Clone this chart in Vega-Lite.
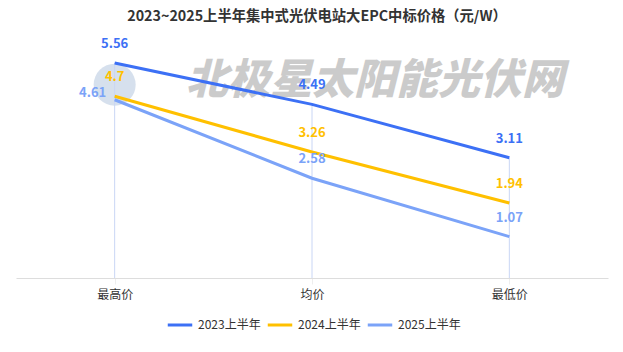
{
  "$schema": "https://vega.github.io/schema/vega-lite/v6.json",
  "width": 592,
  "height": 232,
  "autosize": {"type": "none"},
  "padding": {"left": 16, "top": 46, "right": 15, "bottom": 74},
  "background": "#ffffff",
  "title": {
    "text": "2023~2025上半年集中式光伏电站大EPC中标价格（元/W）",
    "fontSize": 14.3,
    "font": "Noto Sans CJK SC",
    "fontWeight": "bold",
    "color": "#333333",
    "anchor": "middle",
    "dx": 5,
    "offset": 14
  },
  "config": {
    "view": {"stroke": null},
    "font": "Noto Sans CJK SC"
  },
  "data": {
    "values": [
      {"series": "2023上半年", "cat": "最高价", "value": 5.56},
      {"series": "2023上半年", "cat": "均价", "value": 4.49},
      {"series": "2023上半年", "cat": "最低价", "value": 3.11},
      {"series": "2024上半年", "cat": "最高价", "value": 4.7},
      {"series": "2024上半年", "cat": "均价", "value": 3.26},
      {"series": "2024上半年", "cat": "最低价", "value": 1.94},
      {"series": "2025上半年", "cat": "最高价", "value": 4.61},
      {"series": "2025上半年", "cat": "均价", "value": 2.58},
      {"series": "2025上半年", "cat": "最低价", "value": 1.07}
    ]
  },
  "encoding": {
    "x": {
      "field": "cat",
      "type": "nominal",
      "sort": ["最高价", "均价", "最低价"],
      "scale": {"type": "point", "padding": 0.5},
      "axis": {
        "title": null,
        "labelAngle": 0,
        "labelFontSize": 12,
        "labelColor": "#333333",
        "labelPadding": 5,
        "domainColor": "#dddddd",
        "tickColor": "#eeeeee",
        "tickSize": 6,
        "grid": false
      }
    },
    "y": {
      "field": "value",
      "type": "quantitative",
      "scale": {"domain": [0, 6], "nice": false},
      "axis": null
    }
  },
  "layer": [
    {
      "mark": {"type": "point", "filled": true, "color": "#cfdbea", "opacity": 0.85, "size": 1764, "shape": "circle"},
      "encoding": {
        "x": {"datum": "最高价", "type": "nominal"},
        "y": {"datum": 5.0, "type": "quantitative"}
      },
      "transform": [{"filter": "datum.series === '2023上半年' && datum.cat === '最高价'"}]
    },
    {
      "mark": {"type": "text", "text": "北极星太阳能光伏网", "fontSize": 42, "fontWeight": 900, "fontStyle": "italic", "color": "#cbcbcb", "dx": 63, "baseline": "middle", "align": "center"},
      "encoding": {
        "x": {"datum": "均价", "type": "nominal"},
        "y": {"datum": 5.1, "type": "quantitative"}
      },
      "transform": [{"filter": "datum.series === '2023上半年' && datum.cat === '最高价'"}]
    },
    {
      "transform": [{"aggregate": [{"op": "max", "field": "value", "as": "maxv"}], "groupby": ["cat"]}],
      "mark": {"type": "rule", "color": "#c9d6f5", "strokeWidth": 1},
      "encoding": {
        "y": {"field": "maxv", "type": "quantitative"},
        "y2": {"datum": 0}
      }
    },
    {
      "mark": {"type": "line", "strokeWidth": 3},
      "encoding": {
        "color": {
          "field": "series",
          "type": "nominal",
          "scale": {"domain": ["2023上半年", "2024上半年", "2025上半年"], "range": ["#3c70f5", "#ffc000", "#7ba3f8"]},
          "legend": {
            "title": null,
            "orient": "none",
            "legendX": 150,
            "legendY": 265,
            "direction": "horizontal",
            "symbolType": "stroke",
            "symbolSize": 600,
            "symbolStrokeWidth": 3,
            "labelFontSize": 12,
            "labelColor": "#333333",
            "labelOffset": 4,
            "columnPadding": 0
          }
        }
      }
    },
    {
      "transform": [{"filter": "!(datum.series === '2025上半年' && datum.cat === '最高价')"}],
      "mark": {"type": "text", "fontSize": 13, "fontWeight": "bold", "dy": -19, "baseline": "middle"},
      "encoding": {
        "text": {"field": "value", "type": "quantitative"},
        "color": {"field": "series", "type": "nominal", "legend": null}
      }
    },
    {
      "transform": [{"filter": "datum.series === '2025上半年' && datum.cat === '最高价'"}],
      "mark": {"type": "text", "fontSize": 13, "fontWeight": "bold", "dy": -7, "dx": -22, "baseline": "middle"},
      "encoding": {
        "text": {"field": "value", "type": "quantitative"},
        "color": {"field": "series", "type": "nominal", "legend": null}
      }
    }
  ]
}
